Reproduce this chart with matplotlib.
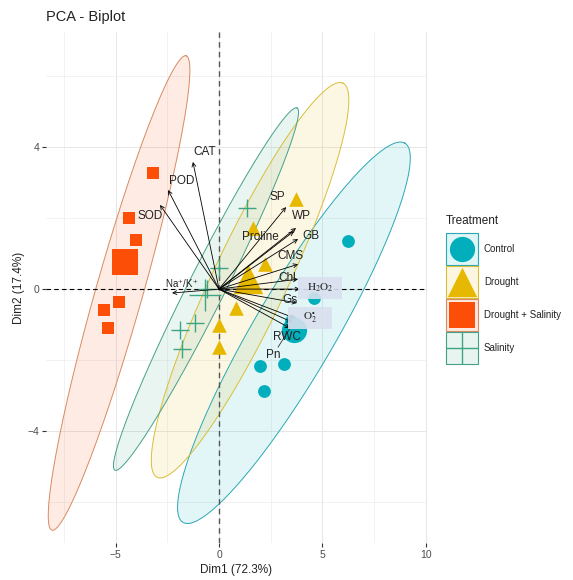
import matplotlib.pyplot as plt
import numpy as np
from matplotlib.patches import Rectangle

plt.rcParams['font.family'] = ['Liberation Sans', 'DejaVu Sans']
plt.rcParams['mathtext.fontset'] = 'stix'

# individuals (PCA scores)
groups = ["Control", "Drought", "Drought + Salinity", "Salinity"]
colors = ["#00AFBB", "#E7B800", "#FC4E07", "#3DA584"]
edge_colors = ["#2AA8B4", "#D9BE3A", "#D98A60", "#45A08A"]
markers = ["o", "^", "s", "+"]

ctrl_x = [6.23, 4.59, 1.98, 3.14, 2.17, 3.50]
ctrl_y = [1.35, -0.25, -2.17, -2.11, -2.87, -0.90]
drought_x = [3.72, 1.64, 2.22, 0.82, 0.00, 0.00]
drought_y = [2.54, 1.72, 0.70, -0.54, -1.01, -1.63]
ds_x = [-3.19, -4.35, -4.01, -4.83, -5.56, -5.36]
ds_y = [3.27, 2.00, 1.38, -0.37, -0.59, -1.10]
sal_x = [1.35, 0.00, -0.60, -1.15, -1.90, -1.80]
sal_y = [2.28, 0.60, 0.00, -0.95, -1.15, -1.70]

# concentration ellipses: centre, semi-major vector, semi-minor vector
ell_center = [(3.62, -1.23), (1.50, 0.25), (-4.83, -0.11), (-0.63, 0.00)]
ell_major = [(5.36, 5.34), (4.49, 5.55), (3.24, 6.68), (4.40, 5.10)]
ell_minor = [(1.70, -0.58), (1.62, -0.45), (1.10, -0.17), (0.80, -0.23)]

# variables (loadings) and their label positions
var_names = ["CAT", "POD", "SOD", "Na$^{+}$/K$^{+}$", "SP", "WP", "Proline", "GB",
             "CMS", "Chl", "Gs", "RWC", "Pn"]
var_x = [-1.26, -2.46, -2.85, -2.27, 3.24, 3.72, 3.62, 3.82, 3.82, 3.82, 3.77, 3.53, 3.43]
var_y = [3.58, 2.79, 2.37, -0.11, 2.31, 1.72, 1.63, 1.41, 0.70, 0.28, -0.39, -0.93, -1.10]
lab_x = [-0.68, -1.79, -3.33, -1.79, 2.80, 3.96, 1.98, 4.44, 3.43, 3.29, 3.43, 3.29, 2.61]
lab_y = [3.86, 3.04, 2.06, 0.14, 2.59, 2.06, 1.46, 1.49, 0.93, 0.31, -0.31, -1.35, -1.86]
lab_size = [8.5, 8.5, 8.5, 7, 8.5, 8.5, 8.5, 8.5, 8.5, 8.5, 8.5, 8.5, 8.5]

# ROS variables with boxed labels
ros_names = [r"$\mathrm{H_2O_2}$", r"$\mathrm{O_2^{\bullet}}$"]
ros_x = [3.91, 3.67]
ros_y = [0.00, -0.82]
ros_lab_x = [4.88, 4.40]
ros_lab_y = [0.03, -0.82]

xs = [ctrl_x, drought_x, ds_x, sal_x]
ys = [ctrl_y, drought_y, ds_y, sal_y]

fig = plt.figure(figsize=(5.73, 5.80), dpi=100)
ax = fig.add_axes([46 / 573, 1 - 543 / 580, 381 / 573, 511 / 580])

t = np.linspace(0, 2 * np.pi, 200)
for i, col in enumerate(colors):
    cx, cy = ell_center[i]
    ex = cx + np.cos(t) * ell_major[i][0] + np.sin(t) * ell_minor[i][0]
    ey = cy + np.cos(t) * ell_major[i][1] + np.sin(t) * ell_minor[i][1]
    ax.fill(ex, ey, color=col, alpha=0.11, lw=0, zorder=1)
    ax.plot(ex, ey, color=edge_colors[i], lw=0.7, zorder=1.5)

ax.axhline(0, color="black", lw=0.8, ls=(0, (4, 3)), zorder=2)
ax.axvline(0, color="#555555", lw=1.0, ls=(0, (4, 3)), zorder=2)

sizes = [85, 110, 85, 170]
mean_sizes = [330, 450, 330, 550]
for i, col in enumerate(colors):
    lw = 1.0 if markers[i] == "+" else 0
    ax.scatter(xs[i], ys[i], s=sizes[i], marker=markers[i], color=col, linewidths=lw, zorder=3)
    ax.scatter(np.mean(xs[i]), np.mean(ys[i]), s=mean_sizes[i], marker=markers[i], color=col,
               linewidths=lw, zorder=3)

arrow_kw = dict(arrowstyle="->", lw=0.6, color="black", shrinkA=0, shrinkB=0, mutation_scale=7)
for vx, vy in zip(var_x + ros_x, var_y + ros_y):
    ax.annotate("", xy=(vx, vy), xytext=(0, 0), arrowprops=arrow_kw, zorder=4)

for name, lx, ly, fs in zip(var_names, lab_x, lab_y, lab_size):
    ax.text(lx, ly, name, ha="center", va="center", fontsize=fs, color="#222222", zorder=5)

# segment linking Pn label to its arrow
ax.plot([var_x[-1], var_x[-1] + 0.7 * (lab_x[-1] - var_x[-1])],
        [var_y[-1], var_y[-1] + 0.7 * (lab_y[-1] - var_y[-1])], color="#333333", lw=0.6, zorder=4)

for name, lx, ly in zip(ros_names, ros_lab_x, ros_lab_y):
    ax.add_patch(Rectangle((lx - 1.05, ly - 0.31), 2.1, 0.62, facecolor="#D8E0EE",
                           edgecolor="none", alpha=0.9, zorder=5))
    ax.text(lx, ly, name, ha="center", va="center", fontsize=8, color="#222222", zorder=6)

ax.set_xlim(-8.36, 10.05)
ax.set_ylim(-7.15, 7.24)
ax.set_xticks([-5, 0, 5, 10])
ax.set_yticks([-4, 0, 4])
ax.set_xticks([-7.5, -2.5, 2.5, 7.5], minor=True)
ax.set_yticks([-6, -2, 2, 6], minor=True)
ax.grid(which="major", color="#E6E6E6", lw=0.7, zorder=0)
ax.grid(which="minor", color="#EDEDED", lw=0.5, zorder=0)
ax.set_axisbelow(True)
for s in ax.spines.values():
    s.set_visible(False)
ax.tick_params(which="major", length=3, width=0.8, color="#333333", labelsize=7.5,
               labelcolor="#4D4D4D", pad=2)
ax.tick_params(which="minor", length=0)
ax.set_xlabel("Dim1 (72.3%)", fontsize=8.5, labelpad=3, color="#222222")
ax.set_ylabel("Dim2 (17.4%)", fontsize=8.5, labelpad=2, color="#222222")
ax.set_title("PCA - Biplot", loc="left", fontsize=10.5, pad=8, color="#222222")

# legend drawn in pixel-like units
lg = fig.add_axes([440 / 573, 1 - 372 / 580, 133 / 573, 167 / 580])
lg.set_xlim(0, 133)
lg.set_ylim(167, 0)
lg.axis("off")
lg.text(6, 16, "Treatment", fontsize=8.5, va="center", ha="left", color="#222222")
for i, (g, col) in enumerate(zip(groups, colors)):
    y0 = 28 + 33 * i
    lg.add_patch(Rectangle((6, y0), 32, 32, facecolor=col, alpha=0.12, edgecolor="none"))
    lg.add_patch(Rectangle((6, y0), 32, 32, facecolor="none", edgecolor=edge_colors[i], lw=0.8))
    lw = 1.0 if markers[i] == "+" else 0
    lg.scatter(22, y0 + 16, s=mean_sizes[i], marker=markers[i], color=col, linewidths=lw,
               clip_on=False)
    lg.text(44, y0 + 16, g, fontsize=7, va="center", ha="left", color="#222222")

fig.savefig("out.png", dpi=100)
